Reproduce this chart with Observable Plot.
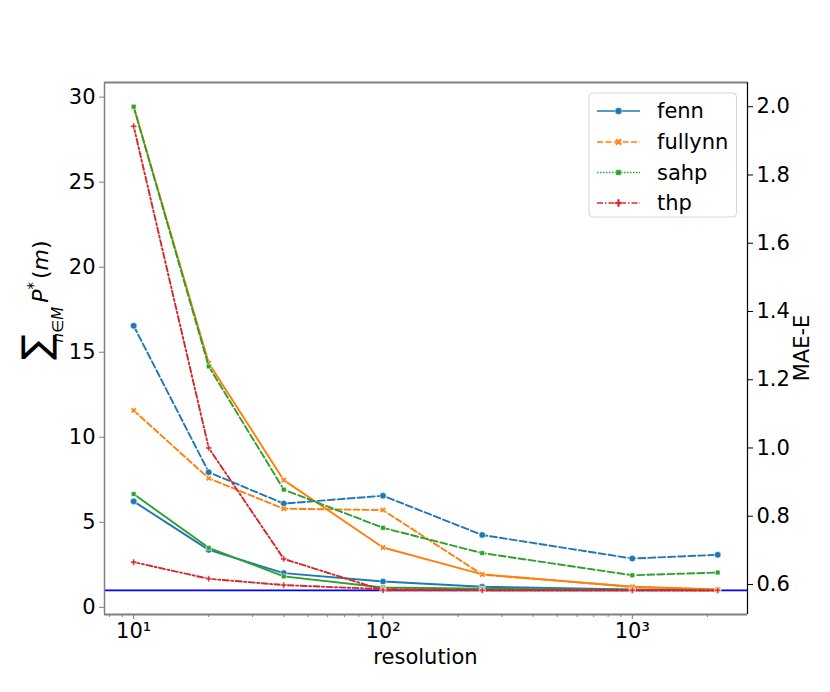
<!DOCTYPE html>
<html>
<head>
<meta charset="utf-8">
<script src="https://cdn.jsdelivr.net/npm/d3@7"></script>
<script src="https://cdn.jsdelivr.net/npm/@observablehq/plot@0.6"></script>
<style>
  html, body { margin: 0; padding: 0; background: white; }
  #chart { width: 830px; height: 692px; }
</style>
</head>
<body>
<div id="chart"></div>
<script>
// ---------------- data ----------------
const resolution = [10, 20, 40, 100, 250, 1000, 2200];
const models = ["fenn", "fullynn", "sahp", "thp"];
const colors = ["#1f77b4", "#ff7f0e", "#2ca02c", "#d62728"];

// left axis: sum of P*(m)
const sumP_fenn    = [6.23, 3.38, 2.01, 1.52, 1.21, 1.06, 1.02];
const sumP_fullynn = [29.44, 14.36, 7.48, 3.52, 1.94, 1.21, 1.06];
const sumP_sahp    = [6.66, 3.50, 1.82, 1.17, 1.10, 1.03, 1.01];
const sumP_thp     = [2.66, 1.68, 1.31, 1.07, 1.01, 1.00, 1.00];

// right axis: MAE-E
const mae_fenn    = [1.358, 0.929, 0.837, 0.860, 0.745, 0.676, 0.687];
const mae_fullynn = [1.110, 0.911, 0.822, 0.818, 0.629, 0.593, 0.585];
const mae_sahp    = [2.000, 1.239, 0.878, 0.766, 0.692, 0.627, 0.635];
const mae_thp     = [1.943, 1.000, 0.675, 0.583, 0.583, 0.583, 0.583];

const leftTicks = [0, 5, 10, 15, 20, 25, 30];
const rightTicks = [0.6, 0.8, 1.0, 1.2, 1.4, 1.6, 1.8, 2.0];
const xMajorTicks = [10, 100, 1000];
const xMajorLabels = ["10\u00b9", "10\u00b2", "10\u00b3"];
const xMinorTicks = [8, 9, 20, 30, 40, 50, 60, 70, 80, 90, 200, 300, 400, 500, 600, 700, 800, 900, 2000];
const referenceLine = 1.0;

// ---------------- scales ----------------
const xDomain = [Math.pow(10, 0.883), Math.pow(10, 3.462)];
const yL = [-0.42, 30.86];
const yR = [0.512, 2.071];
const toLeft = v => yL[0] + (v - yR[0]) / (yR[1] - yR[0]) * (yL[1] - yL[0]);
const fromLeft = d => yR[0] + (d - yL[0]) / (yL[1] - yL[0]) * (yR[1] - yR[0]);

// custom filled "X" symbol (seaborn 'X')
const symbolFilledX = {
  draw(context, size) {
    const r = Math.sqrt(size / 5) / 2;
    const pts = [[-3,-1],[-1,-1],[-1,-3],[1,-3],[1,-1],[3,-1],[3,1],[1,1],[1,3],[-1,3],[-1,1],[-3,1]];
    const c = Math.SQRT1_2;
    pts.forEach(([a, b], i) => {
      const x = (a - b) * c * r, y = (a + b) * c * r;
      if (i) context.lineTo(x, y); else context.moveTo(x, y);
    });
    context.closePath();
  }
};
const symbols = ["circle", symbolFilledX, "square", "cross"];
const markerR = [3.3, 2.7, 2.7, 2.6];

const leftSeries = [sumP_fenn, sumP_fullynn, sumP_sahp, sumP_thp];
const rightSeries = [mae_fenn, mae_fullynn, mae_sahp, mae_thp];
const leftDash = [null, null, null, "6,2.5,2,2.5"];
const rightDash = ["7,3", "6,3", "7,3", "6,2.5,2,2.5"];

const marks = [];
marks.push(Plot.ruleY([referenceLine], {stroke: "#0000ff", strokeWidth: 1.8}));

function addSeries(values, i, dash, transform) {
  const rows = resolution.map((r, k) => ({resolution: r, value: transform(values[k])}));
  const opts = {x: "resolution", y: "value", stroke: colors[i], strokeWidth: 1.9};
  if (dash) opts.strokeDasharray = dash;
  marks.push(Plot.line(rows, opts));
  marks.push(Plot.dot(rows, {x: "resolution", y: "value", symbol: symbols[i], r: markerR[i],
    fill: colors[i], stroke: "white", strokeWidth: 0.6}));
}
leftSeries.forEach((s, i) => addSeries(s, i, leftDash[i], v => v));
rightSeries.forEach((s, i) => addSeries(s, i, rightDash[i], toLeft));

// axes
marks.push(Plot.axisY({anchor: "left", ticks: leftTicks, tickSize: 5, tickPadding: 4, fontSize: 21,
  stroke: "#808080", fill: "black", label: null}));
marks.push(Plot.axisY({anchor: "right", ticks: rightTicks.map(toLeft), tickFormat: d => fromLeft(d).toFixed(1),
  tickSize: 5, tickPadding: 4, fontSize: 21, stroke: "black", fill: "black", label: null}));
marks.push(Plot.axisX({anchor: "bottom", ticks: xMinorTicks, tickSize: 3, tickFormat: () => "",
  stroke: "#808080", label: null}));
marks.push(Plot.axisX({anchor: "bottom", ticks: xMajorTicks, tickSize: 5, tickPadding: 4, fontSize: 21,
  tickFormat: d => xMajorLabels[xMajorTicks.indexOf(d)], stroke: "#808080", fill: "black", label: null}));

// spines
marks.push(Plot.ruleX([xDomain[0]], {stroke: "#808080", strokeWidth: 1.5}));
marks.push(Plot.ruleY([yL[0]], {stroke: "#808080", strokeWidth: 2}));
marks.push(Plot.ruleY([yL[1]], {stroke: "#808080", strokeWidth: 2}));
marks.push(Plot.ruleX([xDomain[1]], {stroke: "black", strokeWidth: 1.2}));

const chart = Plot.plot({
  width: 830,
  height: 692,
  marginLeft: 104,
  marginRight: 83,
  marginTop: 82,
  marginBottom: 78,
  style: {fontFamily: "'DejaVu Sans', sans-serif", fontSize: "21px", background: "white", color: "black"},
  x: {type: "log", domain: xDomain},
  y: {domain: yL},
  marks
});
document.getElementById("chart").appendChild(chart);

// ---------------- labels & legend ----------------
const svg = d3.select(chart);
const F = "'DejaVu Sans', sans-serif";

svg.append("text").attr("x", 425.5).attr("y", 664).attr("text-anchor", "middle")
  .attr("font-family", F).attr("font-size", 21).attr("fill", "black").text("resolution");

svg.append("text").attr("transform", "translate(809,348) rotate(-90)").attr("text-anchor", "middle")
  .attr("font-family", F).attr("font-size", 21).attr("fill", "black").text("MAE-E");

const yl = svg.append("text").attr("transform", "translate(48,360) rotate(-90)")
  .attr("text-anchor", "start").attr("font-family", F).attr("fill", "black");
yl.append("tspan").attr("font-size", 38).attr("dy", 1).text("\u2211");
yl.append("tspan").attr("font-size", 15).attr("font-style", "italic").attr("dx", -8).attr("dy", 14).text("n");
yl.append("tspan").attr("font-size", 15).text("\u2208");
yl.append("tspan").attr("font-size", 15).attr("font-style", "italic").text("M");
yl.append("tspan").attr("font-size", 22).attr("font-style", "italic").attr("dx", 4).attr("dy", -15).text("P");
yl.append("tspan").attr("font-size", 15).attr("dy", -9).text("*");
yl.append("tspan").attr("font-size", 22).attr("dx", 3).attr("dy", 9).text("(");
yl.append("tspan").attr("font-size", 22).attr("font-style", "italic").text("m");
yl.append("tspan").attr("font-size", 22).text(")");

// legend
const lg = svg.append("g");
lg.append("rect").attr("x", 589).attr("y", 93).attr("width", 147.5).attr("height", 124)
  .attr("rx", 4).attr("fill", "white").attr("fill-opacity", 0.8).attr("stroke", "#d6d6d6").attr("stroke-width", 1);
const legendY = [111, 142, 172.5, 203];
const legendDash = [null, "6,2.5", "1.5,1.5", "6,2,1.5,2"];
const symGen = [d3.symbolCircle, symbolFilledX, d3.symbolSquare, d3.symbolCross];
const symSize = [40, 34, 30, 34];
models.forEach((m, i) => {
  const y = legendY[i];
  const ln = lg.append("line").attr("x1", 597).attr("x2", 640).attr("y1", y).attr("y2", y)
    .attr("stroke", colors[i]).attr("stroke-width", 1.6);
  if (legendDash[i]) ln.attr("stroke-dasharray", legendDash[i]);
  lg.append("path").attr("d", d3.symbol(symGen[i], symSize[i])())
    .attr("transform", `translate(618.5,${y})`).attr("fill", colors[i]).attr("stroke", "white").attr("stroke-width", 0.5);
  lg.append("text").attr("x", 657).attr("y", y).attr("dy", "0.35em").attr("text-anchor", "start")
    .attr("font-family", F).attr("font-size", 21).attr("fill", "black").text(m);
});
</script>
</body>
</html>
